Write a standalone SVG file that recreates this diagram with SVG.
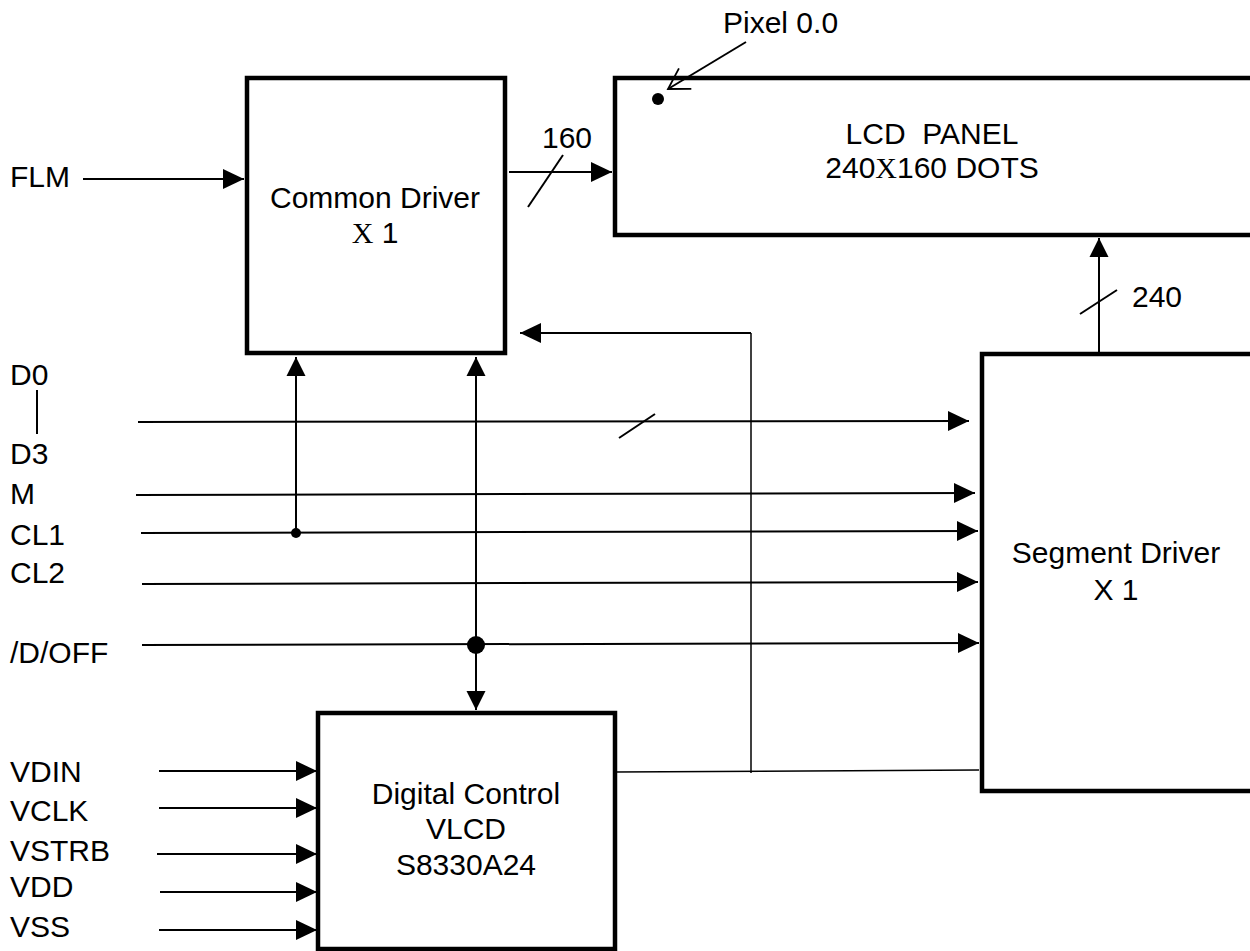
<svg xmlns="http://www.w3.org/2000/svg" width="1250" height="951" viewBox="0 0 1250 951">
<style>
text{font-family:"Liberation Sans",Arial,sans-serif;font-size:30px;fill:#000}
.c{text-anchor:middle}
.box{fill:#fff;stroke:#000;stroke-width:4.5}
.w{stroke:#000;stroke-width:2;fill:none}
.t{stroke:#000;stroke-width:1.5;fill:none}
.serif{font-family:"Liberation Serif","Times New Roman",serif}
</style>
<defs>
<marker id="ah" markerUnits="userSpaceOnUse" markerWidth="21" markerHeight="20" refX="21" refY="10" orient="auto" overflow="visible">
<path d="M0,0 L21,10 L0,20 Z" fill="#000"/>
</marker>
<marker id="av" markerUnits="userSpaceOnUse" markerWidth="19" markerHeight="19" refX="19" refY="9.5" orient="auto" overflow="visible">
<path d="M0,0 L19,9.5 L0,19 Z" fill="#000"/>
</marker>
<marker id="open" markerUnits="userSpaceOnUse" markerWidth="22" markerHeight="24" refX="20" refY="12" orient="auto" overflow="visible">
<path d="M0,0 L20,12 L0,24" fill="none" stroke="#000" stroke-width="1.8"/>
</marker>
</defs>

<g id="common-driver">
<rect class="box" x="247" y="78" width="258" height="275"/>
<text class="c" x="375" y="208">Common Driver</text>
<text class="c" x="375" y="243"><tspan class="serif">X</tspan> 1</text>
</g>

<g id="lcd-panel">
<rect class="box" x="615" y="78" width="640" height="157"/>
<text class="c" x="932" y="144" xml:space="preserve">LCD  PANEL</text>
<text class="c" x="932" y="178">240<tspan class="serif">X</tspan>160 DOTS</text>
<circle cx="658" cy="99" r="6" fill="#000"/>
</g>

<g id="segment-driver">
<rect class="box" x="982" y="354" width="273" height="437"/>
<text class="c" x="1116" y="563">Segment Driver</text>
<text class="c" x="1116" y="600">X 1</text>
</g>

<g id="digital-control">
<rect class="box" x="318" y="713" width="297" height="236"/>
<text class="c" x="466" y="804">Digital Control</text>
<text class="c" x="466" y="839">VLCD</text>
<text class="c" x="466" y="875">S8330A24</text>
</g>

<g id="labels">
<text x="723" y="33">Pixel 0.0</text>
<text x="10" y="187">FLM</text>
<text x="542" y="148">160</text>
<text x="1132" y="307">240</text>
<text x="10" y="385">D0</text>
<text x="10" y="464">D3</text>
<text x="10" y="504">M</text>
<text x="10" y="545">CL1</text>
<text x="10" y="583">CL2</text>
<text x="10" y="663">/D/OFF</text>
<text x="10" y="782">VDIN</text>
<text x="10" y="821">VCLK</text>
<text x="10" y="861">VSTRB</text>
<text x="10" y="897">VDD</text>
<text x="10" y="937">VSS</text>
</g>

<g id="connectors">
<line class="w" x1="746" y1="42" x2="668" y2="89" marker-end="url(#open)"/>
<line class="w" x1="83" y1="179" x2="244" y2="179" marker-end="url(#ah)"/>
<line class="w" x1="509" y1="172" x2="612" y2="172" marker-end="url(#ah)"/>
<line class="w" x1="528" y1="207" x2="563" y2="155"/>
<line class="w" x1="1099" y1="352" x2="1099" y2="238" marker-end="url(#av)"/>
<line class="w" x1="1080" y1="314" x2="1117" y2="290"/>
<line class="w" x1="37" y1="390" x2="37" y2="434"/>
<line class="w" x1="138" y1="422" x2="969" y2="421" marker-end="url(#ah)"/>
<line class="w" x1="619" y1="438" x2="655" y2="414"/>
<line class="w" x1="136" y1="495" x2="975" y2="493" marker-end="url(#ah)"/>
<line class="w" x1="141" y1="533" x2="978" y2="531" marker-end="url(#ah)"/>
<line class="w" x1="142" y1="584" x2="978" y2="582" marker-end="url(#ah)"/>
<line class="w" x1="142" y1="645" x2="979" y2="643" marker-end="url(#ah)"/>
<line class="w" x1="296" y1="533" x2="296" y2="357" marker-end="url(#av)"/>
<circle cx="296" cy="533" r="5" fill="#000"/>
<line class="w" x1="476" y1="530" x2="476" y2="357" marker-end="url(#av)"/>
<line class="w" x1="476" y1="530" x2="476" y2="710" marker-end="url(#av)"/>
<circle cx="476" cy="645" r="9" fill="#000"/>
<polyline class="t" points="615,772 979,770"/>
<line class="t" x1="751" y1="773" x2="751" y2="333"/>
<line class="w" x1="751" y1="333" x2="520" y2="333" marker-end="url(#ah)"/>
<line class="w" x1="159" y1="771" x2="317" y2="771" marker-end="url(#ah)"/>
<line class="w" x1="159" y1="808" x2="317" y2="808" marker-end="url(#ah)"/>
<line class="w" x1="157" y1="854" x2="317" y2="854" marker-end="url(#ah)"/>
<line class="w" x1="160" y1="892" x2="317" y2="892" marker-end="url(#ah)"/>
<line class="w" x1="159" y1="930" x2="317" y2="930" marker-end="url(#ah)"/>
</g>
</svg>
